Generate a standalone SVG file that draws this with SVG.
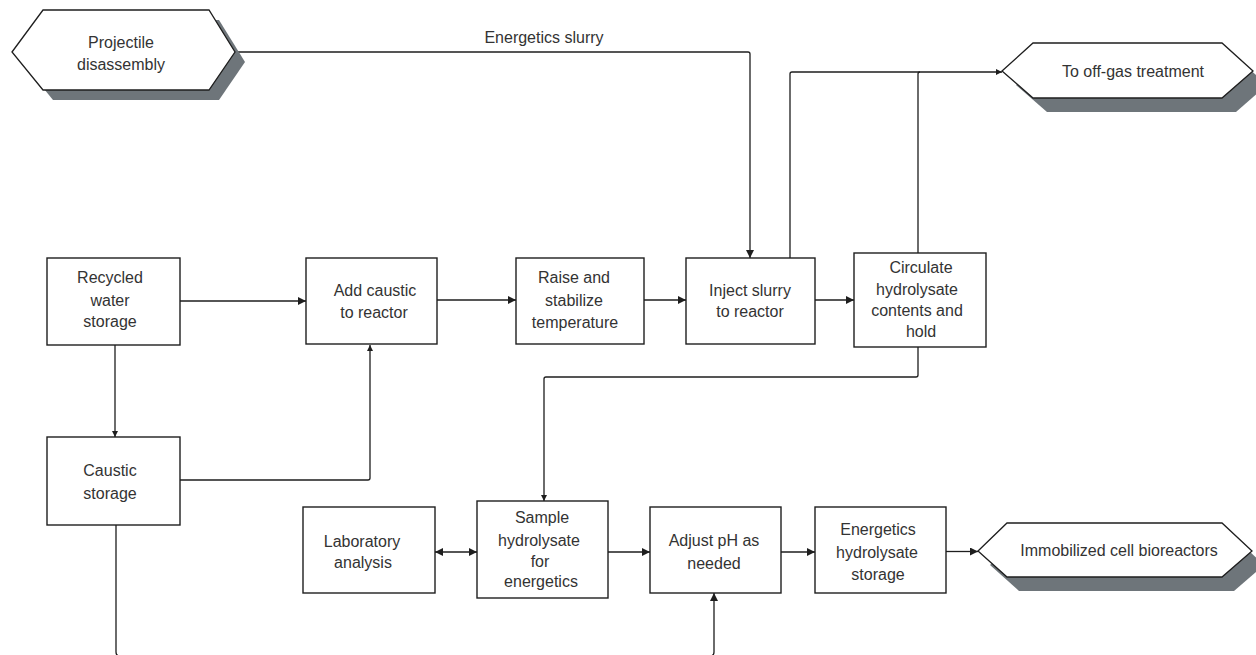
<svg xmlns="http://www.w3.org/2000/svg" width="1256" height="655" viewBox="0 0 1256 655">
  <defs>
    <style>
      .box { fill: #ffffff; stroke: #1e1e1e; stroke-width: 1.4; }
      .term { fill: #ffffff; stroke: #1e1e1e; stroke-width: 1.3; }
      .shadow { fill: #6e757a; stroke: none; }
      .lbl { font-family: "Liberation Sans", Arial, Helvetica, sans-serif; font-size: 16px; fill: #333333; text-anchor: middle; }
      .wire { fill: none; stroke: #1e1e1e; stroke-width: 1.3; }
      .arr { marker-end: url(#head); }
      .arrs { marker-end: url(#headSmall); }
    </style>
    <marker id="head" viewBox="0 0 10 10" refX="10" refY="5" markerWidth="8" markerHeight="8" markerUnits="userSpaceOnUse" orient="auto">
      <path d="M0,0 L10,5 L0,10 Z" fill="#1e1e1e"/>
    </marker>
    <marker id="headSmall" viewBox="0 0 10 10" refX="10" refY="5" markerWidth="6" markerHeight="6" markerUnits="userSpaceOnUse" orient="auto">
      <path d="M0,0 L10,5 L0,10 Z" fill="#1e1e1e"/>
    </marker>
    <marker id="tail" viewBox="0 0 10 10" refX="0" refY="5" markerWidth="8" markerHeight="8" markerUnits="userSpaceOnUse" orient="auto">
      <path d="M10,0 L0,5 L10,10 Z" fill="#1e1e1e"/>
    </marker>
  </defs>

  <rect width="1256" height="655" fill="#ffffff"/>

  <!-- flow lines -->
  <g id="connectors">
    <path class="wire arr" d="M235,52 H748 Q750,52 750,54 V258"/>
    <path class="wire arr" d="M180,301 H306"/>
    <path class="wire arrs" d="M115,345 V437"/>
    <path class="wire arrs" d="M180,480 H368 Q370,480 370,478 V345"/>
    <path class="wire arr" d="M437,300 H516"/>
    <path class="wire arr" d="M644,300 H686"/>
    <path class="wire arr" d="M815,300 H854"/>
    <path class="wire arrs" d="M790,258 V74 Q790,72 792,72 H1002"/>
    <path class="wire" d="M918,253 V74 Q918,72 920,72"/>
    <path class="wire arrs" d="M918,347 V375 Q918,377 916,377 H546 Q544,377 544,379 V501"/>
    <path class="wire arr" marker-start="url(#tail)" d="M435,552 H477"/>
    <path class="wire arr" d="M608,552 H650"/>
    <path class="wire arr" d="M781,552 H815"/>
    <path class="wire arr" d="M946,551.5 H978"/>
    <path class="wire arr" d="M116,525 V652 Q116,656 120,656 H710 Q714,656 714,652 V593"/>
    <text class="lbl" x="544" y="43">Energetics slurry</text>
  </g>

  <!-- source / destination terminals -->
  <g id="projectile-disassembly">
    <polygon class="shadow" points="22,62 53,20 219,20 245,62 219,100 53,100"/>
    <polygon class="term" points="12,52 43,10 209,10 235,52 209,90 43,90"/>
    <text class="lbl" x="121" y="48">Projectile</text>
    <text class="lbl" x="121" y="70">disassembly</text>
  </g>

  <g id="off-gas-treatment">
    <polygon class="shadow" points="1016,85 1047,57 1236,57 1267,85 1236,112 1047,112"/>
    <polygon class="term" points="1002,71 1033,43 1222,43 1253,71 1222,98 1033,98"/>
    <text class="lbl" x="1133" y="77">To off-gas treatment</text>
  </g>

  <g id="immobilized-cell-bioreactors">
    <polygon class="shadow" points="990,565 1019,537 1234,537 1264,565 1234,591 1019,591"/>
    <polygon class="term" points="978,551 1007,523 1222,523 1252,551 1222,577 1007,577"/>
    <text class="lbl" x="1119" y="556">Immobilized cell bioreactors</text>
  </g>

  <!-- process steps -->
  <g id="recycled-water-storage">
    <rect class="box" x="47" y="258" width="133" height="87"/>
    <text class="lbl" x="110" y="283">Recycled</text>
    <text class="lbl" x="110" y="306">water</text>
    <text class="lbl" x="110" y="327">storage</text>
  </g>

  <g id="caustic-storage">
    <rect class="box" x="47" y="437" width="133" height="88"/>
    <text class="lbl" x="110" y="476">Caustic</text>
    <text class="lbl" x="110" y="499">storage</text>
  </g>

  <g id="add-caustic">
    <rect class="box" x="306" y="258" width="131" height="86"/>
    <text class="lbl" x="375" y="296">Add caustic</text>
    <text class="lbl" x="374" y="318">to reactor</text>
  </g>

  <g id="raise-temperature">
    <rect class="box" x="516" y="258" width="128" height="86"/>
    <text class="lbl" x="574" y="283">Raise and</text>
    <text class="lbl" x="574" y="306">stabilize</text>
    <text class="lbl" x="575" y="328">temperature</text>
  </g>

  <g id="inject-slurry">
    <rect class="box" x="686" y="258" width="129" height="86"/>
    <text class="lbl" x="750" y="296">Inject slurry</text>
    <text class="lbl" x="750" y="317">to reactor</text>
  </g>

  <g id="circulate-hold">
    <rect class="box" x="854" y="253" width="132" height="94"/>
    <text class="lbl" x="921" y="273">Circulate</text>
    <text class="lbl" x="917" y="295">hydrolysate</text>
    <text class="lbl" x="917" y="316">contents and</text>
    <text class="lbl" x="921" y="337">hold</text>
  </g>

  <g id="laboratory-analysis">
    <rect class="box" x="303" y="507" width="132" height="86"/>
    <text class="lbl" x="362" y="547">Laboratory</text>
    <text class="lbl" x="363" y="568">analysis</text>
  </g>

  <g id="sample-hydrolysate">
    <rect class="box" x="477" y="501" width="131" height="97"/>
    <text class="lbl" x="542" y="523">Sample</text>
    <text class="lbl" x="539" y="546">hydrolysate</text>
    <text class="lbl" x="540" y="567">for</text>
    <text class="lbl" x="541" y="587">energetics</text>
  </g>

  <g id="adjust-ph">
    <rect class="box" x="650" y="507" width="131" height="86"/>
    <text class="lbl" x="714" y="546">Adjust pH as</text>
    <text class="lbl" x="714" y="569">needed</text>
  </g>

  <g id="energetics-hydrolysate-storage">
    <rect class="box" x="815" y="507" width="131" height="86"/>
    <text class="lbl" x="878" y="535">Energetics</text>
    <text class="lbl" x="877" y="558">hydrolysate</text>
    <text class="lbl" x="878" y="580">storage</text>
  </g>
</svg>
